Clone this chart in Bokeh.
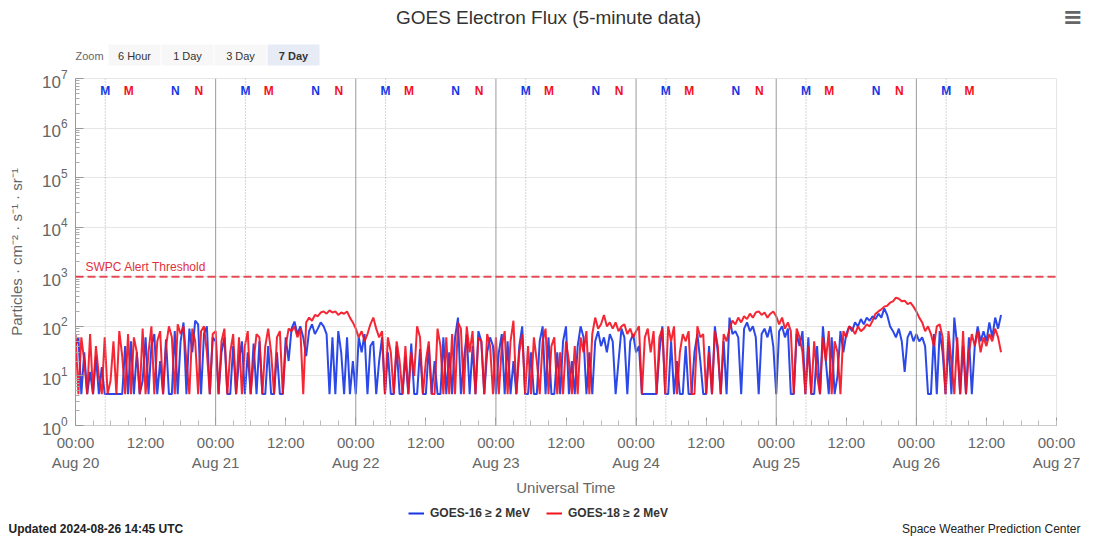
import pandas as pd
from bokeh.plotting import figure
from bokeh.layouts import column, row
from bokeh.models import (ColumnDataSource, Span, Label, Legend, LegendItem,
                          FixedTicker, Range1d, CustomJSTickFormatter)
from bokeh.embed import file_html
from bokeh.resources import INLINE
from bokeh.core.properties import value

# ---------------- data (30-minute samples) ----------------
START = "2024-08-20 00:00"
STEP = "30min"

g16_aug20 = [40, 60, 4.3, 30, 4.3, 12, 4.3, 25, 4.3, 15, 4.3, 4.3, 4.3, 4.3, 4.3, 4.3, 4.3, 40, 4.3, 50,
             4.3, 30, 4.3, 8, 60, 4.3, 40, 70, 4.3, 20, 4.3, 55, 4.3, 4.3, 80, 4.3, 50, 120, 4.3, 90,
             30, 130, 110, 4.3, 70, 100, 4.3, 60]
g16_aug21 = [50, 4.3, 30, 60, 4.3, 4.3, 40, 4.3, 20, 50, 4.3, 30, 4.3, 45, 4.3, 50, 4.3, 4.3, 40, 4.3,
             4.3, 30, 4.3, 4.3, 60, 20, 90, 125, 70, 100, 60, 25, 80, 110, 70, 90, 120, 100, 70, 4.3,
             60, 4.3, 80, 30, 4.3, 60, 4.3, 20]
g16_aug22 = [4.3, 60, 30, 70, 4.3, 40, 50, 4.3, 20, 60, 4.3, 30, 4.3, 4.3, 40, 4.3, 4.3, 25, 4.3, 45,
             4.3, 4.3, 35, 4.3, 4.3, 40, 4.3, 20, 4.3, 4.3, 60, 4.3, 30, 4.3, 60, 150, 4.3, 20, 70, 4.3,
             40, 4.3, 80, 50, 4.3, 30, 60, 40]
g16_aug23 = [4.3, 30, 70, 4.3, 50, 4.3, 20, 4.3, 40, 100, 4.3, 4.3, 30, 4.3, 4.3, 50, 100, 4.3, 60, 4.3,
             4.3, 30, 4.3, 50, 100, 4.3, 20, 4.3, 40, 100, 60, 4.3, 30, 4.3, 50, 80, 40, 60, 30, 70,
             50, 4.3, 20, 90, 60, 4.3, 50, 70]
g16_aug24 = [30, 40, 4.3, 4.3, 4.3, 4.3, 4.3, 4.3, 30, 100, 4.3, 4.3, 50, 4.3, 20, 4.3, 4.3, 40, 4.3, 4.3,
             30, 70, 20, 4.3, 4.3, 40, 4.3, 100, 30, 4.3, 50, 4.3, 150, 70, 80, 60, 4.3, 90, 120, 80,
             100, 60, 4.3, 70, 90, 60, 100, 40]
g16_aug25 = [4.3, 80, 100, 60, 90, 4.3, 4.3, 70, 40, 80, 4.3, 60, 4.3, 4.3, 40, 4.3, 100, 20, 4.3, 60,
             4.3, 10, 80, 30, 70, 100, 80, 120, 100, 140, 110, 150, 130, 160, 140, 180, 150, 230, 170, 100,
             80, 60, 90, 50, 12, 60, 80, 50]
g16_aug26 = [70, 50, 60, 40, 4.3, 4.3, 70, 4.3, 80, 30, 4.3, 50, 4.3, 150, 40, 4.3, 40, 4.3, 60, 4.3,
             40, 100, 50, 80, 50, 120, 60, 150, 90, 170]

g18_aug20 = [70, 4.3, 60, 20, 4.3, 70, 4.3, 40, 10, 4.3, 60, 4.3, 8, 50, 4.3, 80, 25, 4.3, 70, 4.3,
             60, 30, 4.3, 90, 4.3, 30, 100, 4.3, 50, 80, 4.3, 40, 100, 60, 4.3, 110, 70, 100, 20, 4.3,
             90, 50, 4.3, 80, 100, 30, 4.3, 70]
g18_aug21 = [80, 4.3, 50, 90, 4.3, 30, 70, 4.3, 60, 4.3, 40, 80, 4.3, 20, 70, 60, 4.3, 40, 90, 30,
             4.3, 60, 80, 4.3, 40, 90, 80, 100, 60, 90, 4.3, 120, 150, 130, 170, 160, 190, 200, 180, 210,
             190, 200, 170, 190, 180, 200, 150, 120]
g18_aug22 = [90, 60, 80, 50, 70, 110, 150, 90, 60, 80, 4.3, 60, 30, 4.3, 50, 20, 4.3, 40, 4.3, 30,
             10, 100, 60, 4.3, 20, 50, 4.3, 4.3, 90, 40, 4.3, 60, 4.3, 70, 4.3, 120, 90, 4.3, 100, 30,
             80, 4.3, 60, 50, 4.3, 70, 40, 4.3]
g18_aug23 = [60, 4.3, 40, 80, 4.3, 50, 130, 4.3, 30, 70, 4.3, 40, 4.3, 60, 20, 4.3, 50, 90, 4.3, 40,
             60, 4.3, 30, 4.3, 50, 20, 4.3, 40, 4.3, 60, 30, 80, 4.3, 70, 150, 90, 110, 170, 100, 120,
             90, 120, 80, 100, 110, 70, 90, 60]
g18_aug24 = [80, 100, 4.3, 60, 90, 30, 80, 4.3, 60, 90, 4.3, 100, 50, 100, 4.3, 30, 70, 50, 80, 4.3,
             4.3, 100, 60, 70, 4.3, 30, 4.3, 80, 40, 4.3, 70, 50, 90, 130, 110, 150, 120, 160, 140, 180,
             150, 190, 200, 170, 190, 150, 180, 200]
g18_aug25 = [160, 110, 150, 90, 120, 80, 4.3, 90, 60, 30, 4.3, 40, 4.3, 50, 10, 4.3, 60, 20, 80, 4.3,
             50, 30, 4.3, 80, 60, 100, 90, 70, 100, 80, 90, 110, 100, 130, 180, 200, 220, 250, 260, 300,
             320, 380, 360, 320, 330, 280, 300, 250]
g18_aug26 = [200, 150, 120, 80, 100, 70, 40, 100, 110, 60, 4.3, 80, 20, 4.3, 60, 4.3, 80, 4.3, 30, 70,
             40, 80, 30, 60, 40, 70, 50, 90, 60, 30]

goes16 = g16_aug20 + g16_aug21 + g16_aug22 + g16_aug23 + g16_aug24 + g16_aug25 + g16_aug26
goes18 = g18_aug20 + g18_aug21 + g18_aug22 + g18_aug23 + g18_aug24 + g18_aug25 + g18_aug26

series_names = ["GOES-16 \u2265 2 MeV", "GOES-18 \u2265 2 MeV"]
threshold = 1000
threshold_label = "SWPC Alert Threshold"

# local midnight (M) / noon (N) markers
m16_times = ["2024-08-20 05:06", "2024-08-21 05:06", "2024-08-22 05:06", "2024-08-23 05:06",
             "2024-08-24 05:06", "2024-08-25 05:06", "2024-08-26 05:06"]
m18_times = ["2024-08-20 09:06", "2024-08-21 09:06", "2024-08-22 09:06", "2024-08-23 09:06",
             "2024-08-24 09:06", "2024-08-25 09:06", "2024-08-26 09:06"]
n16_times = ["2024-08-20 17:06", "2024-08-21 17:06", "2024-08-22 17:06", "2024-08-23 17:06",
             "2024-08-24 17:06", "2024-08-25 17:06"]
n18_times = ["2024-08-20 21:06", "2024-08-21 21:06", "2024-08-22 21:06", "2024-08-23 21:06",
             "2024-08-24 21:06", "2024-08-25 21:06"]
day_lines = ["2024-08-21", "2024-08-22", "2024-08-23", "2024-08-24", "2024-08-25", "2024-08-26"]

y_ticks = [1, 10, 100, 1e3, 1e4, 1e5, 1e6, 1e7]
y_minor = [k * 10 ** e for e in range(0, 7) for k in range(2, 10)]

title_text = "GOES Electron Flux (5-minute data)"
zoom_buttons = ["6 Hour", "1 Day", "3 Day", "7 Day"]
selected_button = "7 Day"
updated_text = "Updated 2024-08-26 14:45 UTC"
credit_text = "Space Weather Prediction Center"

# ---------------- styling ----------------
BLUE = "#1435e6"
RED = "#f5101e"
FONT = "Liberation Sans"
GREY_TXT = "#666666"
W = 1084
HEAD_H, MAIN_H, FOOT_H = 66, 432, 39

# ---------------- header ----------------
head = figure(width=W, height=HEAD_H, x_range=Range1d(0, W), y_range=Range1d(HEAD_H, 0),
              x_axis_type=None, y_axis_type=None, output_backend="svg", toolbar_location=None,
              min_border=0)
head.outline_line_color = None
head.grid.visible = False
head.text(x=[548], y=[17], text=[title_text], text_font=value(FONT), text_font_size="19px",
          text_color="#333333", text_align="center", text_baseline="middle")
head.text(x=[1072], y=[16], text=["\u2261"], text_font=value("DejaVu Sans"), text_font_size="24px",
          text_color="#666666", text_align="center", text_baseline="middle", text_font_style="bold")
head.text(x=[75], y=[55], text=["Zoom"], text_font=value(FONT), text_font_size="11px",
          text_color=GREY_TXT, text_align="left", text_baseline="middle")
btn_left = [108, 161, 214, 267]
btn_w = 52
head.quad(left=btn_left, right=[b + btn_w for b in btn_left], top=[44] * 4, bottom=[65] * 4,
          fill_color=["#e6ebf5" if b == selected_button else "#f7f7f7" for b in zoom_buttons],
          line_color=None)
for b, l in zip(zoom_buttons, btn_left):
    head.text(x=[l + btn_w / 2], y=[55], text=[b], text_font=value(FONT), text_font_size="11px",
              text_color="#333333", text_align="center", text_baseline="middle",
              text_font_style="bold" if b == selected_button else "normal")

# ---------------- main chart ----------------
times = pd.date_range(START, periods=len(goes16), freq=STEP)
x_start = pd.Timestamp("2024-08-20 00:00")
x_end = pd.Timestamp("2024-08-27 00:00")

p = figure(width=W, height=MAIN_H, x_axis_type="datetime", y_axis_type="log",
           x_range=Range1d(x_start, x_end), y_range=Range1d(1, 1e7),
           output_backend="svg", toolbar_location=None,
           min_border_left=75, min_border_right=28, min_border_top=12, min_border_bottom=72)
p.outline_line_color = "#e6e6e6"

major_x = [ts.value / 1e6 for ts in pd.date_range(x_start, x_end, freq="12h")]
minor_x = [ts.value / 1e6 for ts in pd.date_range(x_start, x_end, freq="3h")]

fmt = CustomJSTickFormatter(code="""
const d = new Date(tick);
const h = d.getUTCHours();
const hh = (h < 10 ? "0" : "") + h + ":00";
if (h === 0) {
  const months = ["Jan","Feb","Mar","Apr","May","Jun","Jul","Aug","Sep","Oct","Nov","Dec"];
  return hh + "\\n" + months[d.getUTCMonth()] + " " + d.getUTCDate();
}
return hh;
""")

xa = p.xaxis[0]
xa.ticker = FixedTicker(ticks=major_x, minor_ticks=minor_x)
xa.formatter = fmt
xa.major_label_text_font = FONT
xa.major_label_text_font_size = "15px"
xa.major_label_text_color = GREY_TXT
xa.major_label_standoff = 8
xa.axis_line_color = "#cccccc"
xa.major_tick_line_color = "#999999"
xa.minor_tick_line_color = "#bbbbbb"
xa.major_tick_in = 8
xa.major_tick_out = 0
xa.minor_tick_in = 5
xa.minor_tick_out = 0
xa.axis_label = "Universal Time"
xa.axis_label_text_font = FONT
xa.axis_label_text_font_size = "15px"
xa.axis_label_text_font_style = "normal"
xa.axis_label_text_color = GREY_TXT
xa.axis_label_standoff = 5

ya = p.yaxis[0]
ya.ticker = FixedTicker(ticks=y_ticks, minor_ticks=y_minor)
ya.major_label_text_font = FONT
ya.major_label_text_font_size = "17px"
ya.major_label_text_color = GREY_TXT
ya.major_label_standoff = 8
ya.axis_line_color = "#999999"
ya.major_tick_line_color = "#999999"
ya.minor_tick_line_color = "#aaaaaa"
ya.major_tick_in = 8
ya.major_tick_out = 0
ya.minor_tick_in = 4
ya.minor_tick_out = 0
ya.axis_label = "Particles \u00b7 cm\u207b\u00b2 \u00b7 s\u207b\u00b9 \u00b7 sr\u207b\u00b9"
ya.axis_label_text_font = FONT
ya.axis_label_text_font_size = "15px"
ya.axis_label_text_font_style = "normal"
ya.axis_label_text_color = GREY_TXT
ya.axis_label_standoff = 14

p.xgrid.visible = False
p.ygrid.grid_line_color = "#e6e6e6"

for d in day_lines:
    p.add_layout(Span(location=pd.Timestamp(d), dimension="height",
                      line_color="#9a9a9a", line_width=1))
for d in m16_times:
    p.add_layout(Span(location=pd.Timestamp(d), dimension="height",
                      line_color="#aaaaaa", line_width=1, line_dash="1 2"))

p.add_layout(Span(location=threshold, dimension="width", line_color="#e0303c",
                  line_alpha=0.85, line_width=2, line_dash="8 4"))
p.add_layout(Label(x=10, y=threshold, x_units="screen", y_units="data", y_offset=3,
                   text=threshold_label, text_font=FONT, text_font_size="12px",
                   text_color="#e0303c", text_baseline="bottom"))

src16 = ColumnDataSource(dict(t=times, v=goes16))
src18 = ColumnDataSource(dict(t=times, v=goes18))
p.line("t", "v", source=src16, line_color=BLUE, line_width=2, line_alpha=0.9)
p.line("t", "v", source=src18, line_color=RED, line_width=2, line_alpha=0.9)

MARK_Y = 5.5e6
for tlist, txt, col in [(m16_times, "M", BLUE), (m18_times, "M", RED),
                        (n16_times, "N", BLUE), (n18_times, "N", RED)]:
    s = ColumnDataSource(dict(t=pd.to_datetime(tlist), y=[MARK_Y] * len(tlist),
                              s=[txt] * len(tlist)))
    p.text("t", "y", text="s", source=s, text_color=col, text_font=value(FONT),
           text_font_size="12px", text_font_style="bold",
           text_align="center", text_baseline="middle")

# ---------------- footer (legend + credits) ----------------
foot = figure(width=W, height=FOOT_H, x_range=Range1d(0, W), y_range=Range1d(FOOT_H, 0),
              x_axis_type=None, y_axis_type=None, output_backend="svg", toolbar_location=None,
              min_border=0)
foot.outline_line_color = None
foot.grid.visible = False
nan = float("nan")
l16 = foot.line(x=[nan, nan], y=[nan, nan], line_color=BLUE, line_width=2)
l18 = foot.line(x=[nan, nan], y=[nan, nan], line_color=RED, line_width=2)
legend = Legend(items=[LegendItem(label=series_names[0], renderers=[l16]),
                       LegendItem(label=series_names[1], renderers=[l18])],
                location=(408, 17), orientation="horizontal",
                label_text_font=FONT, label_text_font_size="12px",
                label_text_font_style="bold", label_text_color="#333333",
                glyph_width=16, glyph_height=12, label_standoff=6, spacing=16,
                padding=0, margin=0, border_line_color=None, background_fill_alpha=0)
foot.add_layout(legend, "center")
foot.text(x=[8], y=[30], text=[updated_text], text_font=value(FONT), text_font_size="12px",
          text_color="#222222", text_font_style="bold", text_align="left", text_baseline="middle")
foot.text(x=[1080], y=[30], text=[credit_text], text_font=value(FONT), text_font_size="12px",
          text_color="#222222", text_align="right", text_baseline="middle")

layout = column(row(head), p, row(foot), spacing=0)
open("out.html", "w").write(file_html(layout, INLINE))
